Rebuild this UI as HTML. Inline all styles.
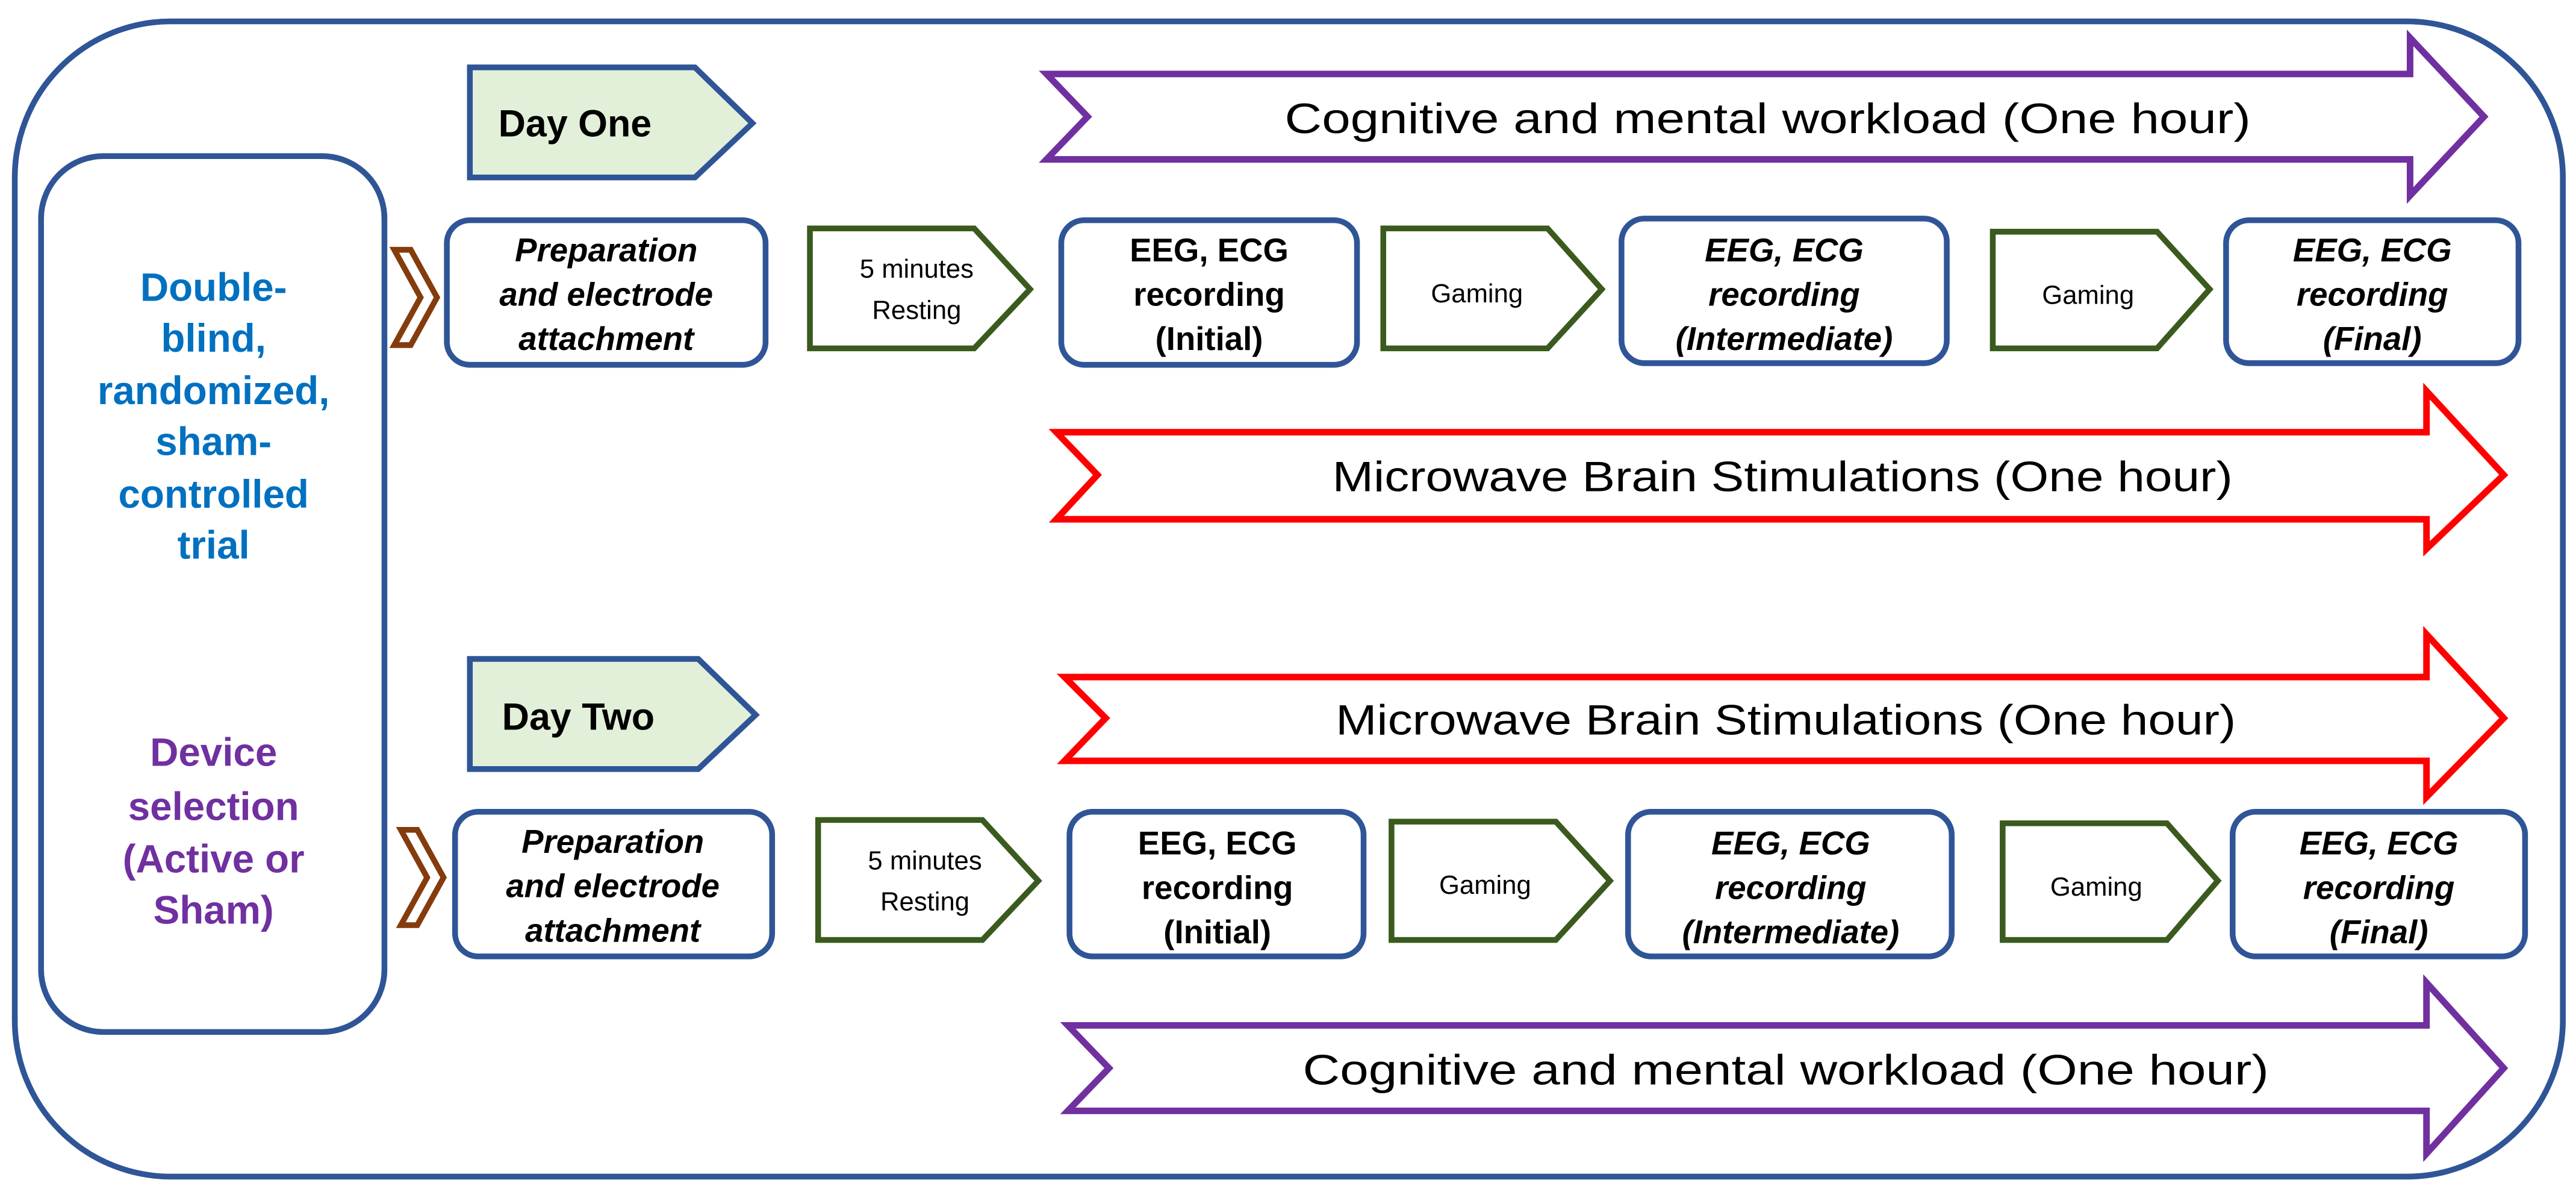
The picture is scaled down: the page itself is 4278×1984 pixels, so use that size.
<!DOCTYPE html>
<html><head><meta charset="utf-8"><style>html,body{margin:0;padding:0;background:#fff}svg{display:block}</style></head>
<body>
<svg width="4278" height="1984" viewBox="0 0 1568 727.2" preserveAspectRatio="none" xmlns="http://www.w3.org/2000/svg" font-family="Liberation Sans, sans-serif">
<g fill="none" stroke="#2F5597" stroke-width="3.5">
<rect x="9" y="13" width="1551" height="703" rx="95" ry="95"/>
<rect x="25" y="95" width="209" height="533" rx="38" ry="38"/>
</g>
<path d="M286,41 L423,41 L458,75 L423,108 L286,108 Z" fill="#E2F0D9" stroke="#2F5597" stroke-width="3.5"/>
<text x="350" y="83" font-size="23" font-weight="bold" text-anchor="middle">Day One</text>
<path d="M286,401 L425,401 L460,435 L425,468 L286,468 Z" fill="#E2F0D9" stroke="#2F5597" stroke-width="3.5"/>
<text x="352" y="444" font-size="23" font-weight="bold" text-anchor="middle">Day Two</text>
<g fill="#fff" stroke-width="4">
<path d="M637,45 L1467,45 L1467,23 L1512,71 L1467,119 L1467,97 L637,97 L662,71 Z" stroke="#7030A0"/>
<path d="M643,263 L1477,263 L1477,238 L1524,289 L1477,334 L1477,316 L643,316 L668,289 Z" stroke="#FF0000"/>
<path d="M648,412 L1477,412 L1477,386 L1524,437 L1477,485 L1477,463 L648,463 L673,437 Z" stroke="#FF0000"/>
<path d="M650,624 L1477,624 L1477,598 L1524,650 L1477,702 L1477,676 L650,676 L675,650 Z" stroke="#7030A0"/>
</g>
<g font-size="26" text-anchor="middle">
<text x="1076" y="81" textLength="588" lengthAdjust="spacingAndGlyphs">Cognitive and mental workload (One hour)</text>
<text x="1085" y="299" textLength="548" lengthAdjust="spacingAndGlyphs">Microwave Brain Stimulations (One hour)</text>
<text x="1087" y="447" textLength="548" lengthAdjust="spacingAndGlyphs">Microwave Brain Stimulations (One hour)</text>
<text x="1087" y="660" textLength="588" lengthAdjust="spacingAndGlyphs">Cognitive and mental workload (One hour)</text>
</g>
<g fill="#fff" stroke="#843C0C" stroke-width="3.5">
<path d="M240,152 L250,152 L266,181 L250,210 L240,210 L256,181 Z"/>
<path d="M244,505 L254,505 L270,534 L254,563 L244,563 L260,534 Z"/>
</g>
<g fill="#fff" stroke="#2F5597" stroke-width="3.5">
<rect x="272" y="134" width="194" height="88" rx="14"/>
<rect x="646" y="134" width="180" height="88" rx="14"/>
<rect x="987" y="133" width="198" height="88" rx="14"/>
<rect x="1355" y="134" width="178" height="87" rx="14"/>
<rect x="277" y="494" width="193" height="88" rx="14"/>
<rect x="651" y="494" width="179" height="88" rx="14"/>
<rect x="991" y="494" width="197" height="88" rx="14"/>
<rect x="1359" y="494" width="178" height="88" rx="14"/>
</g>
<g fill="#fff" stroke="#3A5A1E" stroke-width="3.5">
<path d="M493,139 L593,139 L627,176 L593,212 L493,212 Z"/>
<path d="M842,139 L942,139 L975,176 L942,212 L842,212 Z"/>
<path d="M1213,141 L1313,141 L1345,176 L1313,212 L1213,212 Z"/>
<path d="M498,499 L598,499 L632,536 L598,572 L498,572 Z"/>
<path d="M847,500 L947,500 L980,536 L947,572 L847,572 Z"/>
<path d="M1219,501 L1319,501 L1350,536 L1319,572 L1219,572 Z"/>
</g>
<g font-size="16" text-anchor="middle">
<text x="558" y="169">5 minutes</text><text x="558" y="194">Resting</text>
<text x="563" y="529">5 minutes</text><text x="563" y="554">Resting</text>
<text x="899" y="184">Gaming</text><text x="1271" y="185">Gaming</text>
<text x="904" y="544">Gaming</text><text x="1276" y="545">Gaming</text>
</g>
<g font-size="20" font-weight="bold" text-anchor="middle">
<g font-style="italic">
<text x="369" y="159">Preparation</text><text x="369" y="186">and electrode</text><text x="369" y="213">attachment</text>
<text x="373" y="519">Preparation</text><text x="373" y="546">and electrode</text><text x="373" y="573">attachment</text>
<text x="1086" y="159">EEG, ECG</text><text x="1086" y="186">recording</text><text x="1086" y="213">(Intermediate)</text>
<text x="1444" y="159">EEG, ECG</text><text x="1444" y="186">recording</text><text x="1444" y="213">(Final)</text>
<text x="1090" y="520">EEG, ECG</text><text x="1090" y="547">recording</text><text x="1090" y="574">(Intermediate)</text>
<text x="1448" y="520">EEG, ECG</text><text x="1448" y="547">recording</text><text x="1448" y="574">(Final)</text>
</g>
<text x="736" y="159">EEG, ECG</text><text x="736" y="186">recording</text><text x="736" y="213">(Initial)</text>
<text x="741" y="520">EEG, ECG</text><text x="741" y="547">recording</text><text x="741" y="574">(Initial)</text>
</g>
<g font-size="24" font-weight="bold" text-anchor="middle">
<g fill="#0070C0">
<text x="130" y="183">Double-</text><text x="130" y="214">blind,</text><text x="130" y="246">randomized,</text><text x="130" y="277">sham-</text><text x="130" y="309">controlled</text><text x="130" y="340">trial</text>
</g>
<g fill="#7030A0">
<text x="130" y="466">Device</text><text x="130" y="499">selection</text><text x="130" y="531">(Active or</text><text x="130" y="562">Sham)</text>
</g>
</g>
</svg>
</body></html>
